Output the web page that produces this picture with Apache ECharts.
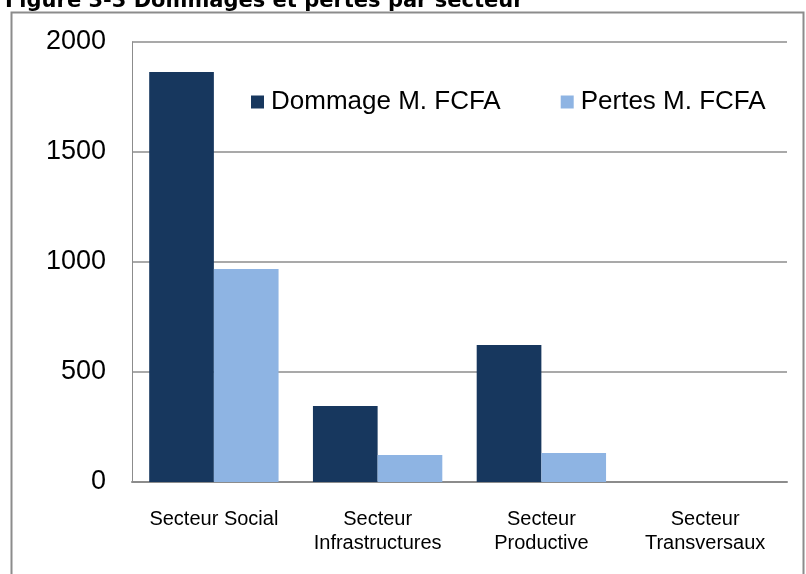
<!DOCTYPE html>
<html>
<head>
<meta charset="utf-8">
<script src="https://cdn.jsdelivr.net/npm/echarts@6/dist/echarts.min.js"></script>
<style>
  html, body { margin: 0; padding: 0; background: #fff; }
  #chart { width: 806px; height: 574px; }
</style>
</head>
<body>
<div id="chart"></div>
<script>
// 数据
const categories = ["Secteur Social", "Secteur\nInfrastructures", "Secteur\nProductive", "Secteur\nTransversaux"];
const dommages = [1864, 345, 623, 0];
const pertes = [968, 123, 132, 0];
const seriesNames = ["Dommage M. FCFA", "Pertes M. FCFA"];
const yTicks = [0, 500, 1000, 1500, 2000];

const chart = echarts.init(document.getElementById("chart"));
const option = {
  animation: false,
  textStyle: { fontFamily: "Liberation Sans" },
  title: {
    text: "Figure 3-3 Dommages et pertes par secteur",
    left: 0,
    top: -14,
    textStyle: { fontFamily: "DejaVu Sans", fontWeight: "bold", fontSize: 21, color: "#000" },
  },
  graphic: [
    {
      type: "rect",
      shape: { x: 11.5, y: 12.5, width: 792, height: 580 },
      style: { fill: "none", stroke: "#8c8c8c", lineWidth: 2 },
      silent: true,
    },
  ],
  legend: {
    data: seriesNames,
    left: 246,
    top: 84,
    itemWidth: 13,
    itemHeight: 13,
    itemGap: 60,
    icon: "rect",
    textStyle: { fontSize: 26, color: "#000", fontFamily: "Liberation Sans", padding: [0, 0, 0, 2] },
  },
  grid: { left: 132, top: 42, right: 19, bottom: 92, containLabel: false },
  xAxis: {
    type: "category",
    data: categories,
    axisLine: { lineStyle: { color: "#8c8c8c", width: 2 } },
    axisTick: { show: false },
    axisLabel: { color: "#000", fontSize: 20, lineHeight: 24, margin: 25, interval: 0 },
  },
  yAxis: {
    type: "value",
    min: yTicks[0],
    max: yTicks[yTicks.length - 1],
    interval: 500,
    axisLine: { show: true, lineStyle: { color: "#8c8c8c", width: 1 } },
    axisTick: { show: false },
    splitLine: { lineStyle: { color: "#8c8c8c", width: 1.5 } },
    axisLabel: { color: "#000", fontSize: 27, margin: 26, formatter: (v) => String(v) },
  },
  series: [
    {
      name: seriesNames[0],
      type: "bar",
      data: dommages,
      barGap: "0%",
      barCategoryGap: "21%",
      itemStyle: { color: "#17375e" },
    },
    {
      name: seriesNames[1],
      type: "bar",
      data: pertes,
      itemStyle: { color: "#8eb4e3" },
    },
  ],
};
chart.setOption(option);
</script>
</body>
</html>
